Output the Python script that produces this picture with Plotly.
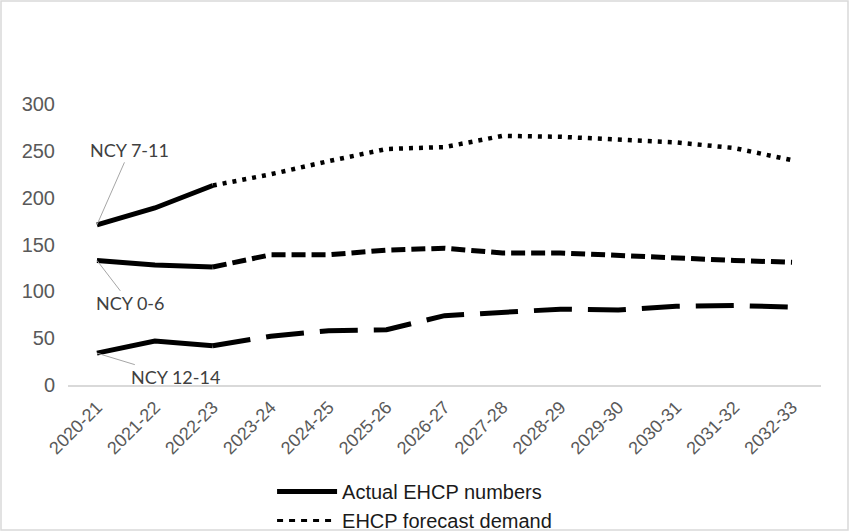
import plotly.graph_objects as go

years = ["2020-21", "2021-22", "2022-23", "2023-24", "2024-25", "2025-26", "2026-27",
         "2027-28", "2028-29", "2029-30", "2030-31", "2031-32", "2032-33"]

ncy_7_11 = [171, 189, 213, 225, 239, 252, 254, 266, 265, 262, 259, 253, 240]
ncy_0_6 = [133, 128, 126, 139, 139, 144, 146, 141, 141, 138, 135, 133, 131]
ncy_12_14 = [34, 47, 42, 52, 58, 59, 74, 77, 81, 80, 84, 85, 83]

n_actual = 3  # first three years are actual numbers; forecast starts from the last actual year

series = [
    ("NCY 7-11", ncy_7_11, "4px,6px", 4.5),
    ("NCY 0-6", ncy_0_6, "14px,6px", 5),
    ("NCY 12-14", ncy_12_14, "38px,16px", 5),
]

fig = go.Figure()
for name, vals, dash, fw in series:
    fig.add_trace(go.Scatter(
        x=years[:n_actual], y=vals[:n_actual], mode="lines", name=name + " actual",
        line=dict(color="black", width=5), showlegend=False, hoverinfo="x+y+name"))
    fig.add_trace(go.Scatter(
        x=years[n_actual - 1:], y=vals[n_actual - 1:], mode="lines", name=name + " forecast",
        line=dict(color="black", width=fw, dash=dash), showlegend=False, hoverinfo="x+y+name"))

# legend entries
fig.add_trace(go.Scatter(x=[None], y=[None], mode="lines", name="Actual EHCP numbers",
                         line=dict(color="black", width=5)))
fig.add_trace(go.Scatter(x=[None], y=[None], mode="lines", name="EHCP forecast demand",
                         line=dict(color="black", width=3, dash="6px,6px")))

ann_font = dict(family="Lato, Carlito, Calibri, sans-serif", size=18, color="#404040")
labels = [
    ("NCY 7-11", ncy_7_11[0], 33, -75),
    ("NCY 0-6", ncy_0_6[0], 33, 43),
    ("NCY 12-14", ncy_12_14[0], 79, 24),
]
for text, yv, ax, ay in labels:
    fig.add_annotation(x=years[0], y=yv, text=text, showarrow=True, arrowhead=0,
                       arrowwidth=1, arrowcolor="#a6a6a6", ax=ax, ay=ay, standoff=0,
                       font=ann_font)

fig.update_layout(
    width=850, height=532,
    margin=dict(l=68, r=29, t=104, b=147, autoexpand=False),
    paper_bgcolor="white", plot_bgcolor="white",
    font=dict(family="Liberation Sans, Arial, sans-serif", color="#595959"),
    legend=dict(orientation="v", x=0.271, xanchor="left", y=-0.31, yanchor="top",
                font=dict(size=20, color="#1a1a1a"), itemwidth=60, maxheight=120,
                tracegroupgap=0, bgcolor="rgba(0,0,0,0)"),
    shapes=[dict(type="rect", xref="paper", yref="paper",
                 x0=-67 / 753, x1=780 / 753, y0=(385 - 530) / 281, y1=(385 - 1) / 281,
                 line=dict(color="#d9d9d9", width=1.5), fillcolor="rgba(0,0,0,0)", layer="below")],
)
fig.update_xaxes(type="category", range=[-0.5, len(years) - 0.5], showline=True,
                 linecolor="#d9d9d9", linewidth=1.5,
                 showgrid=False, ticks="", tickangle=-45, ticklabelstandoff=3,
                 tickfont=dict(size=18, color="#595959"))
fig.update_yaxes(range=[0, 300], dtick=50, showline=False, showgrid=False, zeroline=False,
                 ticks="", ticklabelstandoff=12,
                 tickfont=dict(size=20, color="#595959"))

fig.write_html("out.html", config={"displayModeBar": False},
               post_script="document.body.style.margin='0px';")
